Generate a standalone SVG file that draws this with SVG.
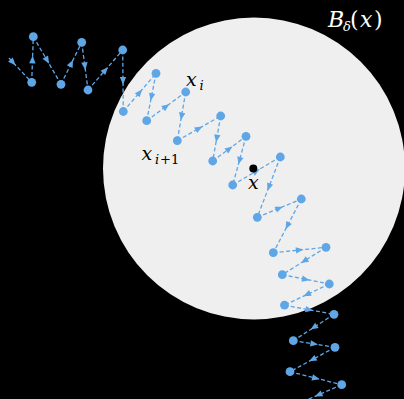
<svg xmlns="http://www.w3.org/2000/svg" width="404" height="399" viewBox="0 0 404 399">
<style>
.seg{fill:none;stroke:#5fa6e6;stroke-width:1.3;stroke-dasharray:4 2.4;marker-mid:url(#arr)}
.pt{fill:#5fa6e6}
.lbl{font-family:"DejaVu Serif","Liberation Serif",serif;font-style:italic;fill:#000}
.sub{font-family:"DejaVu Serif","Liberation Serif",serif;fill:#000}
.w{fill:#fff}
</style>
<defs>
<marker id="arr" markerUnits="userSpaceOnUse" markerWidth="10" markerHeight="10" viewBox="-5 -5 10 10" refX="0" refY="0" orient="auto">
<path d="M-3.8,-3.2 L3.8,0 L-3.8,3.2 z" fill="#5fa6e6"/>
</marker>
</defs>
<rect width="404" height="399" fill="#000"/>
<g id="ball">
<circle cx="254" cy="168.5" r="151" fill="#efefef"/>
<text class="lbl w" x="328" y="27" font-size="22">B</text>
<text class="lbl w" x="343" y="31" font-size="13">δ</text>
<text class="sub w" x="350" y="27" font-size="22" letter-spacing="1.5">(<tspan font-style="italic">x</tspan>)</text>
</g>
<g id="connectors">
<path class="seg" d="M9,58 L13,62.5 L31.7,82.3"/>
<path class="seg" d="M31.7,82.3 L32.5,59.5 L33.3,36.7"/>
<path class="seg" d="M33.3,36.7 L47.2,60.5 L61,84.3"/>
<path class="seg" d="M61,84.3 L71.4,63.3 L81.7,42.3"/>
<path class="seg" d="M81.7,42.3 L84.9,66.2 L88,90"/>
<path class="seg" d="M88,90 L105.4,70 L122.7,50"/>
<path class="seg" d="M122.7,50 L123,80.8 L123.3,111.5"/>
<path class="seg" d="M123.3,111.5 L139.7,92.4 L156,73.3"/>
<path class="seg" d="M156,73.3 L151.4,97 L146.7,120.7"/>
<path class="seg" d="M146.7,120.7 L166.2,106.4 L185.7,92"/>
<path class="seg" d="M185.7,92 L181.5,116.4 L177.3,140.7"/>
<path class="seg" d="M177.3,140.7 L199,128.4 L220.7,116"/>
<path class="seg" d="M220.7,116 L216.7,138.5 L212.7,161"/>
<path class="seg" d="M212.7,161 L229.4,148.7 L246,136.3"/>
<path class="seg" d="M246,136.3 L239.4,160.7 L232.7,185"/>
<path class="seg" d="M232.7,185 L256.5,171 L280.3,157"/>
<path class="seg" d="M280.3,157 L268.8,187.2 L257.3,217.3"/>
<path class="seg" d="M257.3,217.3 L279.3,208.2 L301.3,199"/>
<path class="seg" d="M301.3,199 L287.3,225.9 L273.3,252.7"/>
<path class="seg" d="M273.3,252.7 L299.7,250 L326,247.3"/>
<path class="seg" d="M326,247.3 L304.2,261 L282.3,274.7"/>
<path class="seg" d="M282.3,274.7 L305.8,279.4 L329.3,284"/>
<path class="seg" d="M329.3,284 L306.9,294.6 L284.5,305.2"/>
<path class="seg" d="M284.5,305.2 L309.3,309.8 L334,314.3"/>
<path class="seg" d="M334,314.3 L313.7,327.5 L293.3,340.7"/>
<path class="seg" d="M293.3,340.7 L314.2,344 L335,347.3"/>
<path class="seg" d="M335,347.3 L312.5,359.5 L290,371.7"/>
<path class="seg" d="M290,371.7 L315.9,378.2 L341.7,384.7"/>
<path class="seg" d="M341.7,384.7 L318.4,394.9 L295,405"/>
</g>
<g id="p1"><circle class="pt" cx="31.7" cy="82.3" r="4.4"/></g>
<g id="p2"><circle class="pt" cx="33.3" cy="36.7" r="4.4"/></g>
<g id="p3"><circle class="pt" cx="61" cy="84.3" r="4.4"/></g>
<g id="p4"><circle class="pt" cx="81.7" cy="42.3" r="4.4"/></g>
<g id="p5"><circle class="pt" cx="88" cy="90" r="4.4"/></g>
<g id="p6"><circle class="pt" cx="122.7" cy="50" r="4.4"/></g>
<g id="p7"><circle class="pt" cx="123.3" cy="111.5" r="4.4"/></g>
<g id="p8"><circle class="pt" cx="156" cy="73.3" r="4.4"/></g>
<g id="p9"><circle class="pt" cx="146.7" cy="120.7" r="4.4"/></g>
<g id="p10"><circle class="pt" cx="185.7" cy="92" r="4.4"/></g>
<g id="p11"><circle class="pt" cx="177.3" cy="140.7" r="4.4"/></g>
<g id="p12"><circle class="pt" cx="220.7" cy="116" r="4.4"/></g>
<g id="p13"><circle class="pt" cx="212.7" cy="161" r="4.4"/></g>
<g id="p14"><circle class="pt" cx="246" cy="136.3" r="4.4"/></g>
<g id="p15"><circle class="pt" cx="232.7" cy="185" r="4.4"/></g>
<g id="p16"><circle class="pt" cx="280.3" cy="157" r="4.4"/></g>
<g id="p17"><circle class="pt" cx="257.3" cy="217.3" r="4.4"/></g>
<g id="p18"><circle class="pt" cx="301.3" cy="199" r="4.4"/></g>
<g id="p19"><circle class="pt" cx="273.3" cy="252.7" r="4.4"/></g>
<g id="p20"><circle class="pt" cx="326" cy="247.3" r="4.4"/></g>
<g id="p21"><circle class="pt" cx="282.3" cy="274.7" r="4.4"/></g>
<g id="p22"><circle class="pt" cx="329.3" cy="284" r="4.4"/></g>
<g id="p23"><circle class="pt" cx="284.5" cy="305.2" r="4.4"/></g>
<g id="p24"><circle class="pt" cx="334" cy="314.3" r="4.4"/></g>
<g id="p25"><circle class="pt" cx="293.3" cy="340.7" r="4.4"/></g>
<g id="p26"><circle class="pt" cx="335" cy="347.3" r="4.4"/></g>
<g id="p27"><circle class="pt" cx="290" cy="371.7" r="4.4"/></g>
<g id="p28"><circle class="pt" cx="341.7" cy="384.7" r="4.4"/></g>
<g id="center"><circle cx="253.3" cy="168.5" r="4" fill="#000"/></g>
<g id="labels">
<text class="lbl" x="186" y="86" font-size="19">x</text><text class="lbl" x="199.5" y="90" font-size="13">i</text>
<text class="lbl" x="141.5" y="160" font-size="19">x</text><text class="lbl" x="155" y="164" font-size="13">i</text><text class="sub" x="160" y="164" font-size="13">+1</text>
<text class="lbl" x="248" y="189" font-size="19">x</text>
</g>
</svg>
